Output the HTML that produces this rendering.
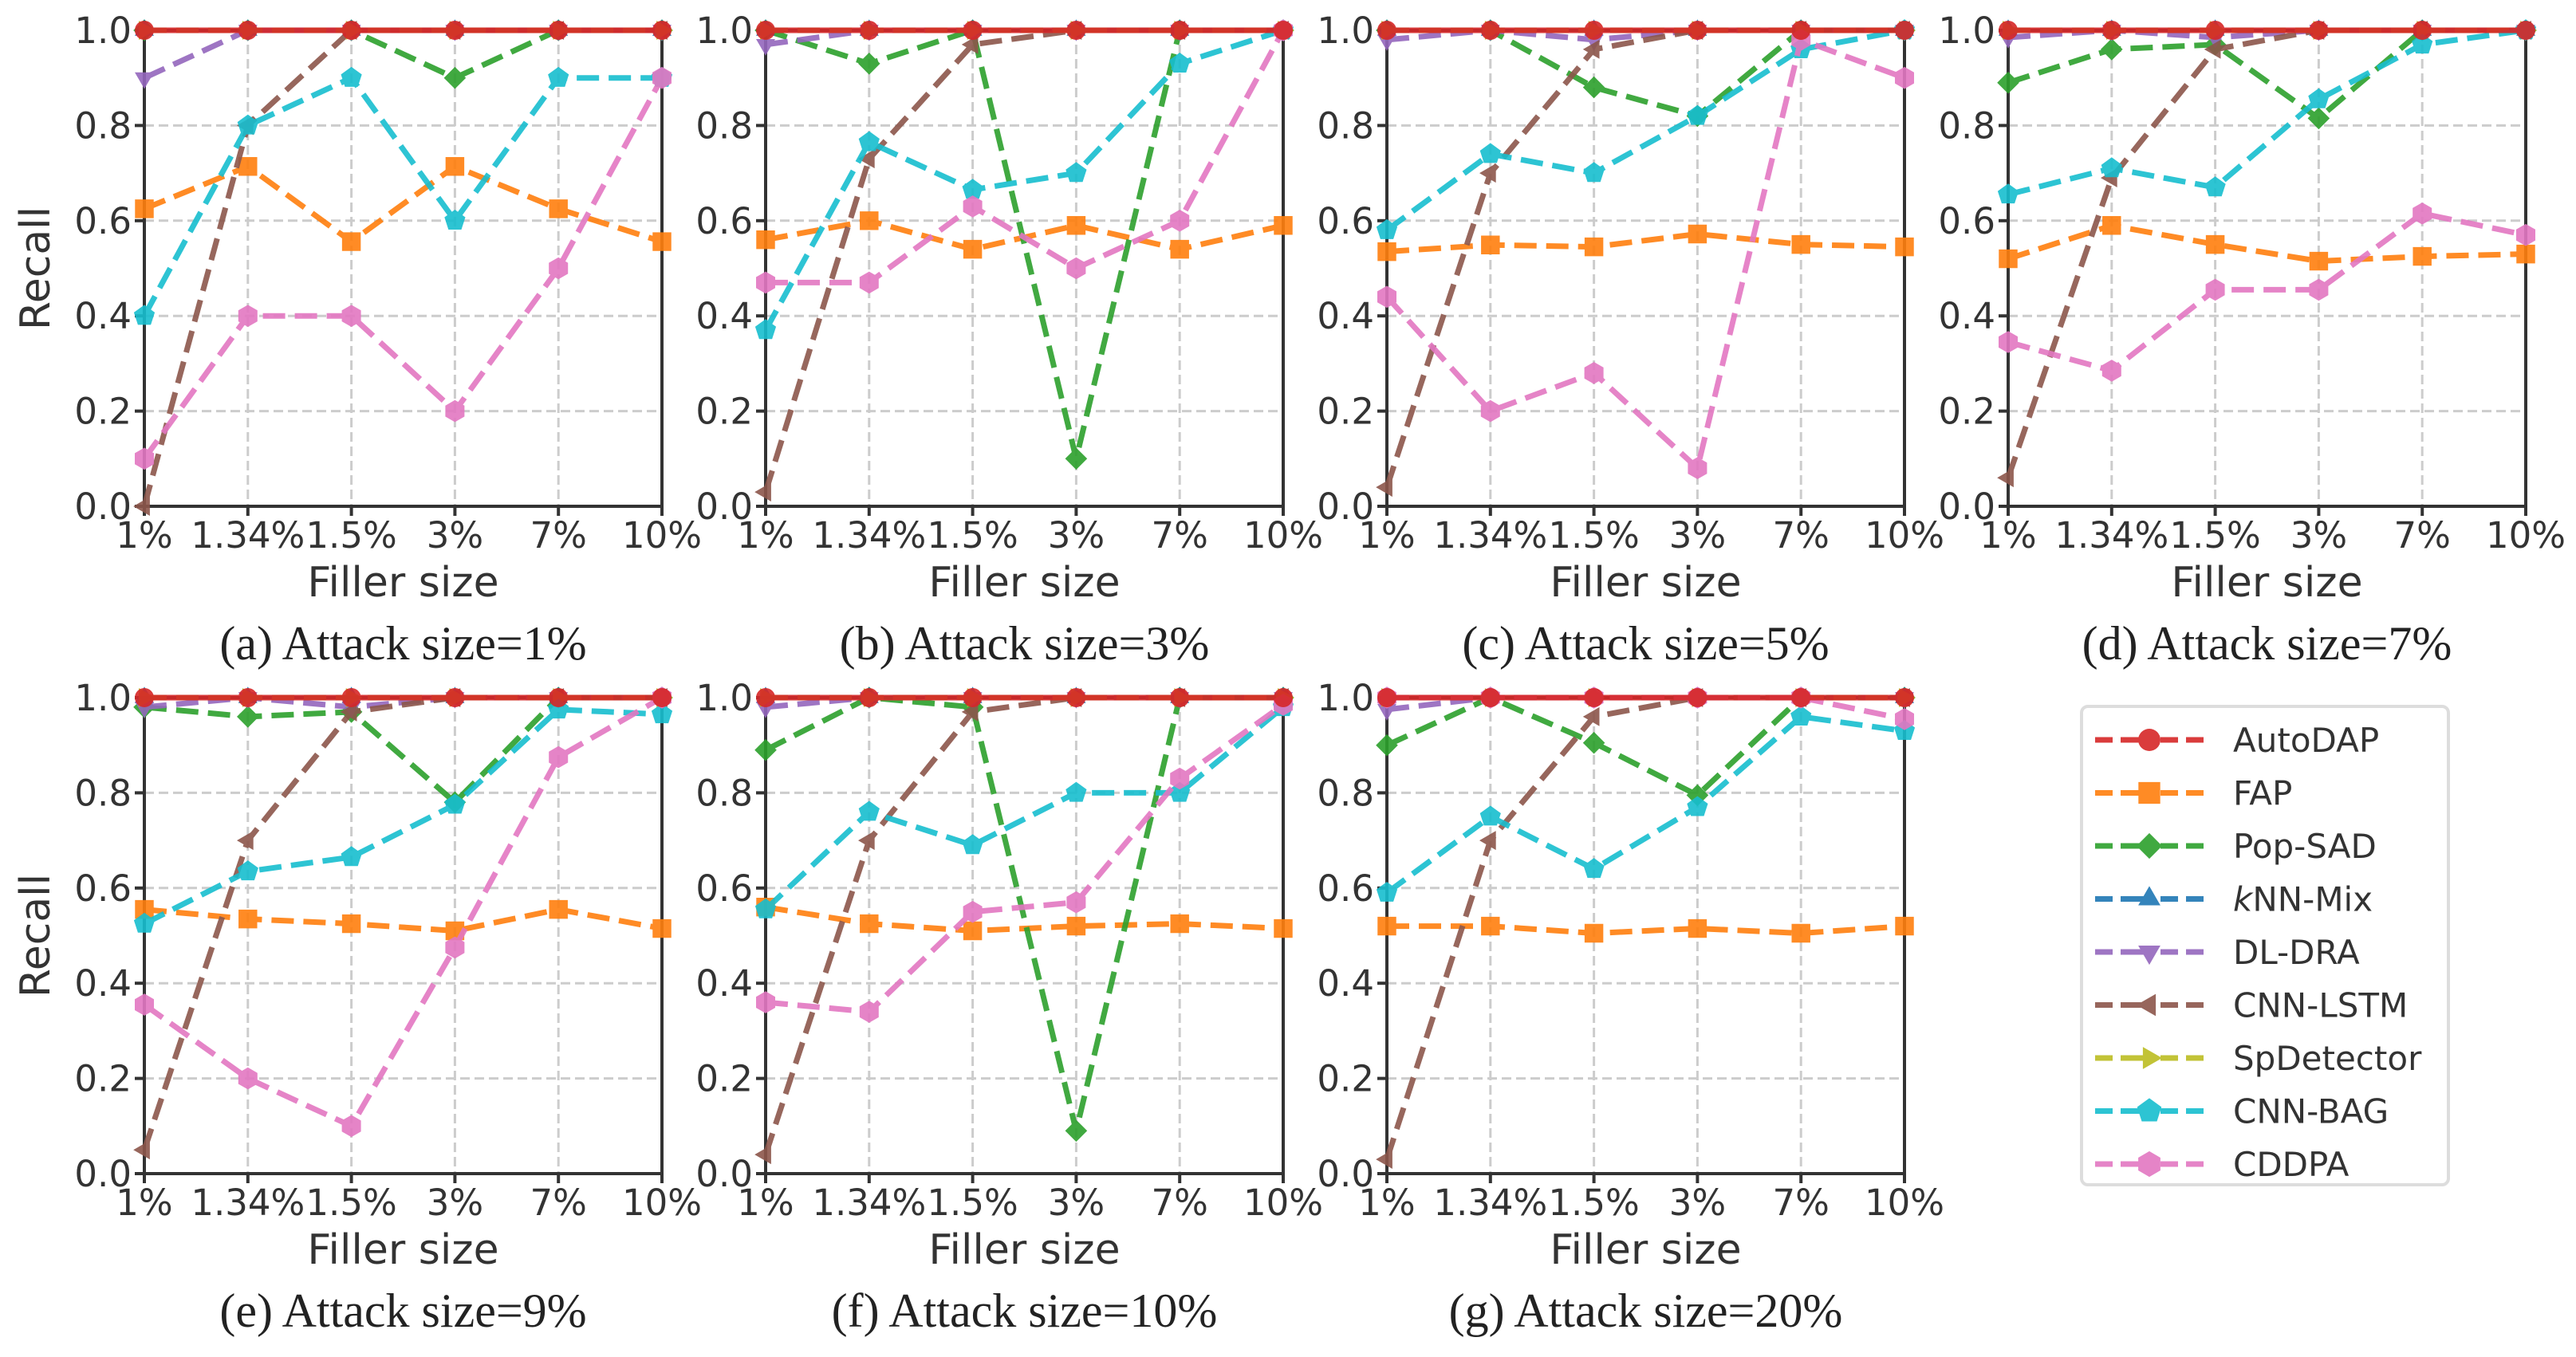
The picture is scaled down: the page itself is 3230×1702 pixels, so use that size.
<!DOCTYPE html>
<html><head><meta charset="utf-8">
<style>
html,body{margin:0;padding:0;background:#fff;}
svg{display:block;}
</style></head>
<body>
<svg id="fig" width="3230" height="1702" viewBox="0 0 3230 1702" xmlns="http://www.w3.org/2000/svg"></svg>
<script>
const fillerSizes = ["1%","1.34%","1.5%","3%","7%","10%"];
const yTicks = [0.0,0.2,0.4,0.6,0.8,1.0];
const methods = ["AutoDAP","FAP","Pop-SAD","kNN-Mix","DL-DRA","CNN-LSTM","SpDetector","CNN-BAG","CDDPA"];
const captions = ["(a) Attack size=1%","(b) Attack size=3%","(c) Attack size=5%","(d) Attack size=7%","(e) Attack size=9%","(f) Attack size=10%","(g) Attack size=20%"];

const autodap = [[1,1,1,1,1,1],[1,1,1,1,1,1],[1,1,1,1,1,1],[1,1,1,1,1,1],[1,1,1,1,1,1],[1,1,1,1,1,1],[1,1,1,1,1,1]];
const fap = [[.625,.714,.556,.714,.625,.556],[.56,.60,.54,.59,.54,.59],[.535,.549,.545,.572,.55,.545],[.52,.59,.55,.515,.525,.53],[.555,.535,.525,.51,.555,.515],[.56,.525,.51,.52,.525,.515],[.52,.52,.505,.515,.505,.52]];
const popSad = [[1,1,1,.9,1,1],[1,.93,1,.1,1,1],[1,1,.88,.82,1,1],[.89,.96,.97,.815,1,1],[.98,.96,.97,.78,1,1],[.89,1,.98,.09,1,1],[.90,1,.905,.795,1,1]];
const knnMix = [[1,1,1,1,1,1],[1,1,1,1,1,1],[1,1,1,1,1,1],[1,1,1,1,1,1],[1,1,1,1,1,1],[1,1,1,1,1,1],[1,1,1,1,1,1]];
const dlDra = [[.9,1,1,1,1,1],[.97,1,1,1,1,1],[.98,1,.98,1,1,1],[.985,1,.985,1,1,1],[.98,1,.98,1,1,1],[.98,1,1,1,1,1],[.975,1,1,1,1,1]];
const cnnLstm = [[0,.8,1,1,1,1],[.03,.73,.97,1,1,1],[.04,.70,.96,1,1,1],[.06,.69,.96,1,1,1],[.05,.70,.97,1,1,1],[.04,.70,.97,1,1,1],[.03,.70,.96,1,1,1]];
const spDetector = [[1,1,1,1,1,1],[1,1,1,1,1,1],[1,1,1,1,1,1],[1,1,1,1,1,1],[1,1,1,1,1,1],[1,1,1,1,1,1],[1,1,1,1,1,1]];
const cnnBag = [[.4,.8,.9,.6,.9,.9],[.37,.765,.665,.70,.93,1],[.58,.74,.70,.82,.96,1],[.655,.71,.67,.855,.97,1],[.525,.635,.665,.775,.975,.965],[.555,.76,.69,.80,.80,.98],[.59,.75,.64,.77,.96,.93]];
const cddpa = [[.1,.4,.4,.2,.5,.9],[.47,.47,.63,.50,.60,1],[.44,.20,.28,.08,.98,.90],[.345,.285,.455,.455,.615,.57],[.355,.20,.10,.475,.875,1],[.36,.34,.55,.57,.83,.985],[1,1,1,1,1,.955]];

const colors = ["#d62728","#ff7f0e","#2ca02c","#1f77b4","#9467bd","#8c564b","#bcbd22","#17becf","#e377c2"];
const shapes = ["circle","square","diamond","tri-up","tri-down","tri-left","tri-right","pentagon","hexagon"];
const seriesData = [autodap,fap,popSad,knnMix,dlDra,cnnLstm,spDetector,cnnBag,cddpa];

const NS="http://www.w3.org/2000/svg";
const svg=document.getElementById('fig');
function mk(tag,attrs,parent){const e=document.createElementNS(NS,tag);for(const k in attrs)e.setAttribute(k,attrs[k]);(parent||svg).appendChild(e);return e;}
const FONT='"DejaVu Sans","Liberation Sans",sans-serif';
const SERIF='"Liberation Serif","DejaVu Serif",serif';
const AX='#333333';

function markerPath(shape,cx,cy,r){
  const pts=[];
  const poly=(n,rot)=>{for(let i=0;i<n;i++){const a=rot+i*2*Math.PI/n;pts.push([cx+r*Math.cos(a),cy+r*Math.sin(a)]);}};
  if(shape==='square'){const s=r*0.85;return `M${cx-s},${cy-s}H${cx+s}V${cy+s}H${cx-s}Z`;}
  if(shape==='diamond'){poly(4,0);}
  else if(shape==='tri-up'){poly(3,-Math.PI/2);}
  else if(shape==='tri-down'){poly(3,Math.PI/2);}
  else if(shape==='tri-left'){poly(3,Math.PI);}
  else if(shape==='tri-right'){poly(3,0);}
  else if(shape==='pentagon'){poly(5,-Math.PI/2);}
  else if(shape==='hexagon'){poly(6,-Math.PI/2);}
  return 'M'+pts.map(p=>p[0].toFixed(1)+','+p[1].toFixed(1)).join('L')+'Z';
}
function drawMarker(g,shape,cx,cy,color,r){
  if(shape==='circle'){return mk('circle',{cx:cx,cy:cy,r:r,fill:color},g);}
  return mk('path',{d:markerPath(shape,cx,cy,r*1.15),fill:color},g);
}

const W=649,H=597;
const panelX=[181,960,1739,2518,181,960,1739];
const panelY=[38,38,38,38,875,875,875];

for(let p=0;p<7;p++){
  const x0=panelX[p],y0=panelY[p];
  const xs=i=>x0+i*W/(fillerSizes.length-1);
  const ys=v=>y0+H*(1-v);
  const g=mk('g',{});
  
  
  yTicks.forEach(t=>{ if(t>0&&t<1){const l=mk('line',{x1:x0,x2:x0+W,y1:ys(t),y2:ys(t),stroke:'#cccccc','stroke-width':3,'stroke-dasharray':'12,6'},g);}});
  fillerSizes.forEach((f,i)=>{ if(i>0&&i<5){const l=mk('line',{x1:xs(i),x2:xs(i),y1:y0,y2:y0+H,stroke:'#cccccc','stroke-width':3,'stroke-dasharray':'12,6'},g);}});
  const ax=mk('rect',{x:x0,y:y0,width:W,height:H,fill:'none',stroke:AX,'stroke-width':4},g);
  
  yTicks.forEach(t=>{
    mk('line',{x1:x0-12,x2:x0,y1:ys(t),y2:ys(t),stroke:AX,'stroke-width':4},g);
    const tx=mk('text',{x:x0-16,y:ys(t)+16,'text-anchor':'end','font-family':FONT,'font-size':45,fill:AX},g);
    tx.textContent=t.toFixed(1);
    
  });
  fillerSizes.forEach((f,i)=>{
    mk('line',{x1:xs(i),x2:xs(i),y1:y0+H,y2:y0+H+12,stroke:AX,'stroke-width':4},g);
    const tx=mk('text',{x:xs(i),y:y0+H+52,'text-anchor':'middle','font-family':FONT,'font-size':45,fill:AX},g);
    tx.textContent=f;
    
  });
  const xl=mk('text',{x:x0+W/2,y:y0+H+113,'text-anchor':'middle','font-family':FONT,'font-size':52,fill:AX},g);
  xl.textContent='Filler size';
  
  const cap=mk('text',{x:x0+W/2,y:y0+H+192,'text-anchor':'middle','font-family':SERIF,'font-size':60,fill:'#222'},g);
  cap.textContent=captions[p];
  
  if(p===0||p===4){
    const yl=mk('text',{x:0,y:0,'text-anchor':'middle','font-family':FONT,'font-size':52,fill:AX,transform:`translate(62,${y0+H/2}) rotate(-90)`},g);
    yl.textContent='Recall';
    
  }
  const order=[1,2,3,4,5,6,7,8,0];
  order.forEach(m=>{
    const vals=seriesData[m][p];
    const sg=mk('g',{opacity:0.9},g);
    
    
    const d=vals.map((v,i)=>(i?'L':'M')+xs(i).toFixed(1)+','+ys(v).toFixed(1)).join('');
    const line=mk('path',{d:d,fill:'none',stroke:colors[m],'stroke-width':7,'stroke-dasharray':m===0?'none':'28,12','stroke-linejoin':'round'},sg);
    
    vals.forEach((v,i)=>{
      const mkr=drawMarker(sg,shapes[m],xs(i),ys(v),colors[m],12);
      
    });
  });
}

const lg=mk('g',{});

mk('rect',{x:2610,y:886,width:460,height:600,rx:8,fill:'#fff',stroke:'#dddddd','stroke-width':4},lg);
methods.forEach((name,m)=>{
  const cy=928+m*66.5;
  const eg=mk('g',{opacity:0.9},lg);
  
  mk('line',{x1:2627,x2:2763,y1:cy,y2:cy,stroke:colors[m],'stroke-width':7,'stroke-dasharray':'22,10,40,10'},eg);
  drawMarker(eg,shapes[m],2695,cy,colors[m],14);
  const t=mk('text',{x:2800,y:cy+15,'font-family':FONT,'font-size':42,fill:AX},lg);
  if(name==='kNN-Mix'){
    const k=mk('tspan',{'font-style':'italic'},t);k.textContent='k';
    const r=mk('tspan',{},t);r.textContent='NN-Mix';
  } else t.textContent=name;
  
});
</script>
</body></html>
